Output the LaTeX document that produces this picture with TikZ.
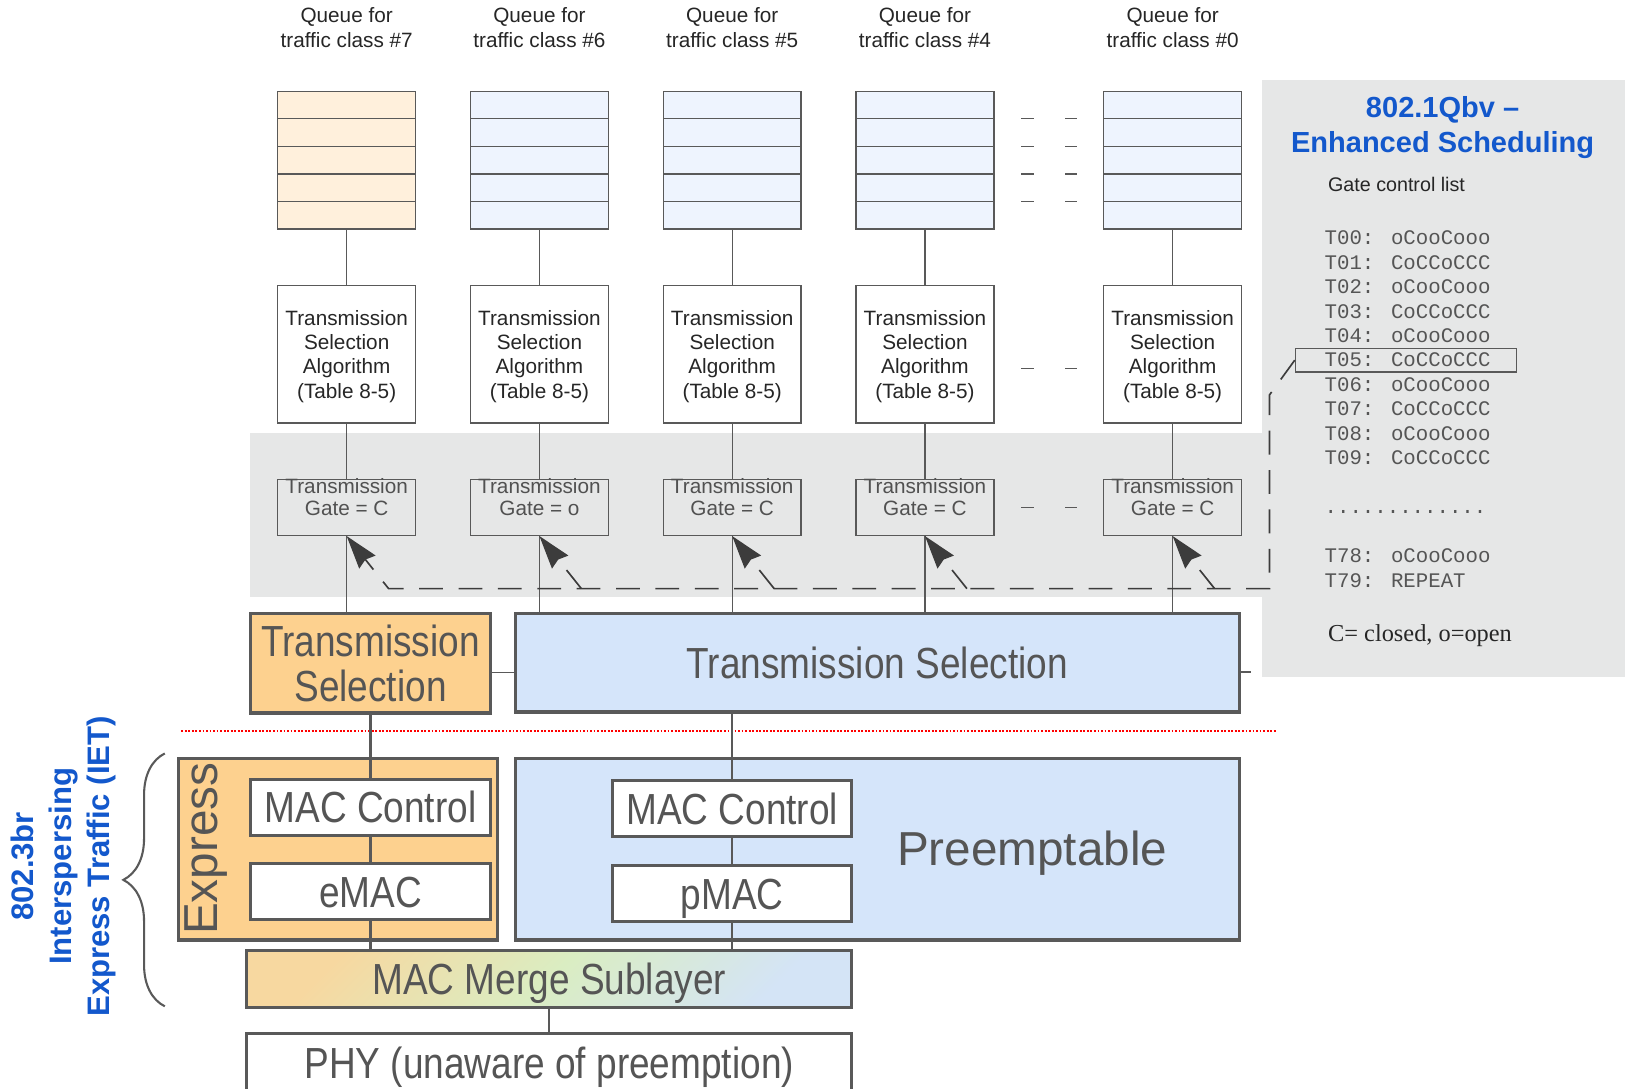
\documentclass[tikz,border=0pt]{standalone}
\usepackage{fontspec}
\setmainfont{Liberation Sans}
\newfontfamily\narrowsans[FakeStretch=0.85]{Liberation Sans}
\newfontfamily\gclmono{Liberation Mono}
\newfontfamily\gclserif{Liberation Serif}
\usetikzlibrary{positioning}
\usetikzlibrary{arrows.meta}
\usetikzlibrary{decorations.pathreplacing}

\definecolor{c_line}{HTML}{595959}
\definecolor{c_text}{HTML}{262626}
\definecolor{c_bigtext}{HTML}{555555}
\definecolor{c_orange}{HTML}{FDD18F}
\definecolor{c_blue}{HTML}{D5E5FA}
\definecolor{c_queue_hi}{HTML}{FFF0DC}
\definecolor{c_queue}{HTML}{EEF4FE}
\definecolor{c_band}{HTML}{E6E7E7}
\definecolor{c_title}{HTML}{1358CC}
\definecolor{c_merge_a}{HTML}{F7D8A0}
\definecolor{c_merge_b}{HTML}{DAEDC2}
\definecolor{c_merge_c}{HTML}{D4E4F6}

\tikzset{
	smallbox/.style = {
		draw=c_line,
		line width=1.3pt,
		inner sep=0pt,
		align=center,
		text=c_text,
		font=\fontsize{20pt}{23.5pt}\selectfont,
		minimum width=133pt
	},
	node_queue/.style = {
		smallbox,
		fill=c_queue,
		minimum height=133pt,
		path picture={
			\foreach \k in {1,...,4}
				\draw[c_line, line width=1.3pt]
					([yshift=-\k*26.6pt]path picture bounding box.north west) --
					([yshift=-\k*26.6pt]path picture bounding box.north east);
		}
	},
	node_queue_hi/.style = {
		node_queue,
		fill=c_queue_hi
	},
	node_tsa/.style = {
		smallbox,
		fill=white,
		minimum height=133pt,
		text depth=-6pt
	},
	node_gate/.style = {
		smallbox,
		minimum height=54pt
	},
	gate_text/.style = {
		align=center,
		text=c_text!80,
		font=\fontsize{20pt}{22pt}\selectfont,
		yshift=10pt
	},
	queue_label/.style = {
		align=center,
		text=c_text,
		font=\fontsize{20pt}{24pt}\selectfont
	},
	bigbox/.style = {
		draw=c_line,
		line width=3pt,
		inner sep=0pt,
		align=center,
		text=c_bigtext,
		font=\narrowsans\fontsize{42pt}{43pt}\selectfont
	},
	node_mac/.style = {
		bigbox,
		fill=white,
		minimum width=231pt,
		minimum height=54pt,
		text height=30pt,
		text depth=0pt
	},
	node_merge/.style = {
		bigbox,
		top color=c_merge_a,
		bottom color=c_merge_c,
		middle color=c_merge_b,
		shading angle=45,
		minimum width=584pt,
		minimum height=55pt,
		text height=30pt,
		text depth=0pt
	},
	area_label/.style = {
		text=c_bigtext,
		font=\fontsize{46pt}{48pt}\selectfont
	},
	link_thin/.style = {
		draw=c_line,
		line width=1.3pt
	},
	link_thick/.style = {
		draw=c_line,
		line width=2.2pt
	},
	gap_dash/.style = {
		draw=c_line,
		line width=1.3pt,
		dash pattern=on 12pt off 30pt,
		dash phase=16pt
	},
	gcl_link/.style = {
		->,
		draw=c_text!90,
		line width=1.6pt,
		dash pattern=on 23pt off 15pt
	},
	gcl_title/.style = {
		align=center,
		text=c_title,
		font=\bfseries\fontsize{28pt}{34pt}\selectfont
	},
	gcl_list/.style = {
		align=left,
		inner sep=0pt,
		text=c_bigtext,
		font=\gclmono\fontsize{20pt}{23.6pt}\selectfont
	},
	iet_label/.style = {
		align=center,
		text=c_title,
		font=\bfseries\fontsize{30pt}{36.5pt}\selectfont
	}
}

\begin{document}
\begin{tikzpicture}[x=1pt, y=-1pt, >={Stealth[length=32pt, width=20pt, inset=3pt]}]
\path[use as bounding box, fill=white] (0,0) rectangle (1568,1050);
\fill[c_band] (241,418) rectangle (1219,576);
\fill[c_band] (1218,77) rectangle (1568,653);

\node [queue_label] (lbl7) at (334.5,27) {Queue for\\traffic class \#7};
\node [queue_label] (lbl6) at (520.5,27) {Queue for\\traffic class \#6};
\node [queue_label] (lbl5) at (706.5,27) {Queue for\\traffic class \#5};
\node [queue_label] (lbl4) at (892.5,27) {Queue for\\traffic class \#4};
\node [queue_label] (lbl0) at (1131.5,27) {Queue for\\traffic class \#0};

\node [node_queue_hi] (q7) at (334.5,154.5) {};
\node [node_queue] (q6) at (520.5,154.5) {};
\node [node_queue] (q5) at (706.5,154.5) {};
\node [node_queue] (q4) at (892.5,154.5) {};
\node [node_queue] (q0) at (1131.5,154.5) {};

\node [node_tsa, below=53pt of q7] (tsa7) {Transmission\\Selection\\Algorithm\\(Table 8-5)};
\node [node_tsa, below=53pt of q6] (tsa6) {Transmission\\Selection\\Algorithm\\(Table 8-5)};
\node [node_tsa, below=53pt of q5] (tsa5) {Transmission\\Selection\\Algorithm\\(Table 8-5)};
\node [node_tsa, below=53pt of q4] (tsa4) {Transmission\\Selection\\Algorithm\\(Table 8-5)};
\node [node_tsa, below=53pt of q0] (tsa0) {Transmission\\Selection\\Algorithm\\(Table 8-5)};

\node [node_gate, below=53pt of tsa7, label={[gate_text]center:{Transmission\\Gate = C}}] (gate7) {};
\node [node_gate, below=53pt of tsa6, label={[gate_text]center:{Transmission\\Gate = o}}] (gate6) {};
\node [node_gate, below=53pt of tsa5, label={[gate_text]center:{Transmission\\Gate = C}}] (gate5) {};
\node [node_gate, below=53pt of tsa4, label={[gate_text]center:{Transmission\\Gate = C}}] (gate4) {};
\node [node_gate, below=53pt of tsa0, label={[gate_text]center:{Transmission\\Gate = C}}] (gate0) {};

\node [bigbox, fill=c_orange, minimum width=231pt, minimum height=96pt] (tsE) at (357.5,640) {Transmission\\Selection};
\node [bigbox, fill=c_blue, minimum width=699pt, minimum height=95pt] (tsP) at (846.5,639.5) {Transmission Selection};

\node [bigbox, fill=c_orange, minimum width=308pt, minimum height=175pt] (expr) at (326,819.5) {};
\node [area_label, rotate=90] (expr_lbl) at (199,819) {Express};
\node [bigbox, fill=c_blue, minimum width=699pt, minimum height=175pt] (pree) at (846.5,819.5) {};
\node [area_label] (pree_lbl) at (996,823) {Preemptable};

\node [node_mac] (macE) at (357.5,779) {MAC Control};
\node [node_mac] (emac) at (357.5,860.5) {eMAC};
\node [node_mac] (macP) at (706.5,780.5) {MAC Control};
\node [node_mac] (pmac) at (706.5,862.5) {pMAC};
\node [node_merge] (merge) at (530,944.5) {MAC Merge Sublayer};
\node [node_mac, minimum width=584pt, minimum height=58pt] (phy) at (530,1026) {PHY (unaware of preemption)};

\draw [red, line width=2pt, dash pattern=on 1.8pt off 1.6pt] (175,705) -- (1232,705);

\draw [link_thin] (q7) -- (tsa7);
\draw [link_thin] (q6) -- (tsa6);
\draw [link_thin] (q5) -- (tsa5);
\draw [link_thin] (q4) -- (tsa4);
\draw [link_thin] (q0) -- (tsa0);
\draw [link_thin] (tsa7) -- (gate7);
\draw [link_thin] (tsa6) -- (gate6);
\draw [link_thin] (tsa5) -- (gate5);
\draw [link_thin] (tsa4) -- (gate4);
\draw [link_thin] (tsa0) -- (gate0);
\draw [link_thin] (gate7) -- (gate7 |- tsE.north);
\draw [link_thin] (gate6) -- (gate6 |- tsP.north);
\draw [link_thin] (gate5) -- (gate5 |- tsP.north);
\draw [link_thin] (gate4) -- (gate4 |- tsP.north);
\draw [link_thin] (gate0) -- (gate0 |- tsP.north);

\draw [gap_dash] ([yshift=39.9pt]q4.east) -- ([yshift=39.9pt]q0.west);
\draw [gap_dash] ([yshift=13.3pt]q4.east) -- ([yshift=13.3pt]q0.west);
\draw [gap_dash] ([yshift=-13.3pt]q4.east) -- ([yshift=-13.3pt]q0.west);
\draw [gap_dash] ([yshift=-39.9pt]q4.east) -- ([yshift=-39.9pt]q0.west);
\draw [gap_dash] ([yshift=-13.5pt]tsa4.east) -- ([yshift=-13.5pt]tsa0.west);
\draw [gap_dash] (gate4) -- (gate0);

\draw [link_thick] (tsE) -- (macE);
\draw [link_thick] (macE) -- (emac);
\draw [link_thick] (emac) -- (emac |- merge.north);
\draw [link_thick] (macP.north |- tsP.south) -- (macP);
\draw [link_thick] (macP) -- (pmac);
\draw [link_thick] (pmac) -- (pmac |- merge.north);
\draw [link_thick] (merge) -- (phy);
\draw [link_thin] ([yshift=-9pt]tsE.east) -- ([yshift=-9pt]tsE.east -| tsP.west);
\draw [link_thin] ([yshift=-9pt]tsP.east) -- ++(10,0);

\node [gcl_title] (gcl_head) at (1392,123) {802.1Qbv –\\Enhanced Scheduling};
\node [anchor=west, text=c_text, font=\fontsize{19pt}{22pt}\selectfont] (gcl_name) at (1278,178) {Gate control list};
\node [gcl_list, anchor=base west] (gcl) at (1278,566.5) {T00: oCooCooo\\T01: CoCCoCCC\\T02: oCooCooo\\T03: CoCCoCCC\\T04: oCooCooo\\T05: CoCCoCCC\\T06: oCooCooo\\T07: CoCCoCCC\\T08: oCooCooo\\T09: CoCCoCCC\\[23.6pt].............\\[23.6pt]T78: oCooCooo\\T79: REPEAT};
\node [draw=c_line, line width=1.3pt, minimum width=213pt, minimum height=23pt] (t05) at (1356.5,347.5) {};
\node [anchor=west, text=c_text, font=\gclserif\fontsize{23.5pt}{26pt}\selectfont] (gcl_key) at (1278,613) {C= closed, o=open};

\coordinate (gcl_bend) at (1225,381);
\coordinate (gcl_corner) at (1225,568);
\draw [gcl_link] (t05.west) -- (gcl_bend) -- (gcl_corner) -- ([xshift=40.5pt]gate7.south |- gcl_corner) -- (gate7.south);
\draw [gcl_link] ([xshift=40.5pt]gate6.south |- gcl_corner) -- (gate6.south);
\draw [gcl_link] ([xshift=40.5pt]gate5.south |- gcl_corner) -- (gate5.south);
\draw [gcl_link] ([xshift=40.5pt]gate4.south |- gcl_corner) -- (gate4.south);
\draw [gcl_link] ([xshift=40.5pt]gate0.south |- gcl_corner) -- (gate0.south);

\node [iet_label, rotate=90] (iet) at (61.5,836) {802.3br\\Interspersing\\Express Traffic (IET)};
\coordinate (iet_low) at (159,971);
\coordinate (iet_high) at (159,727);
\draw [c_line, line width=2pt, decorate, decoration={brace, amplitude=40pt}] (iet_low) -- (iet_high);
\end{tikzpicture}
\end{document}
